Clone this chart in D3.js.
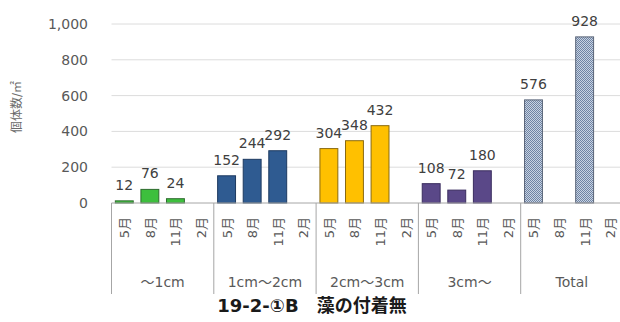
<!DOCTYPE html>
<html>
<head>
<meta charset="utf-8">
<script src="https://cdn.jsdelivr.net/npm/d3@7"></script>
<style>
  html, body { margin: 0; padding: 0; background: #fff; }
  svg { display: block; }
  text { font-family: "DejaVu Sans", "Noto Sans CJK JP", sans-serif; }
</style>
</head>
<body>
<svg id="chart" width="620" height="322"></svg>
<script>
// Size classes and survey months
const groups = ["～1cm", "1cm～2cm", "2cm～3cm", "3cm～", "Total"];
const months = ["5月", "8月", "11月", "2月"];

// Individuals per m², one row per size class (null = no survey value)
const valSmall  = [12, 76, 24, null];
const valMid1   = [152, 244, 292, null];
const valMid2   = [304, 348, 432, null];
const valLarge  = [108, 72, 180, null];
const valTotal  = [576, null, 928, null];
const seriesValues = [valSmall, valMid1, valMid2, valLarge, valTotal];

const yTicks = [0, 200, 400, 600, 800, 1000];
const yTitle = "個体数/㎡";
const chartTitle = "19-2-①B　藻の付着無";

const fills   = ["#3dbf3d", "#2f5b91", "#ffc000", "#5a4888", "url(#dots)"];
const strokes = ["#2d6b2d", "#1d3a60", "#8a6a10", "#3a2d5e", "#5a6578"];

const svg = d3.select("#chart");

// fine checked fill for the totals
const defs = svg.append("defs");
const pat = defs.append("pattern").attr("id", "dots")
  .attr("width", 2).attr("height", 2).attr("patternUnits", "userSpaceOnUse");
pat.append("rect").attr("width", 2).attr("height", 2).attr("fill", "#c9d3e2");
pat.append("rect").attr("width", 1).attr("height", 1).attr("fill", "#6f84a4");
pat.append("rect").attr("x", 1).attr("y", 1).attr("width", 1).attr("height", 1).attr("fill", "#6f84a4");

// flatten into categories
const cats = [];
groups.forEach((g, gi) => months.forEach((m, mi) => {
  cats.push({ key: gi + "-" + mi, group: gi, month: m, value: seriesValues[gi][mi] });
}));

const left = 111.5, groupW = 102.3;
const x = d3.scaleBand().domain(cats.map(d => d.key))
  .range([left, left + groupW * groups.length]).paddingInner(0.3).paddingOuter(0.15);
const y = d3.scaleLinear().domain([0, 1000]).range([203, 24]);

// gridlines
svg.append("g").selectAll("line").data(yTicks.filter(t => t > 0)).join("line")
  .attr("x1", left).attr("x2", 620)
  .attr("y1", d => y(d)).attr("y2", d => y(d))
  .attr("stroke", "#dcdcdc").attr("stroke-width", 1);

// y axis labels
const yAxis = d3.axisLeft(y).tickValues(yTicks).tickFormat(d3.format(",")).tickSize(0).tickPadding(0);
const ya = svg.append("g").attr("transform", "translate(88,0)").call(yAxis);
ya.select(".domain").remove();
ya.selectAll("text").attr("font-size", 14).attr("fill", "#595959")
  .attr("font-family", "DejaVu Sans, sans-serif");

// y title
svg.append("text")
  .attr("transform", "translate(21,107) rotate(-90)")
  .attr("text-anchor", "middle").attr("font-size", 12).attr("fill", "#6a6a6a")
  .attr("font-family", "Noto Sans CJK JP, sans-serif")
  .text(yTitle);

// bars
const barData = cats.filter(d => d.value != null);
svg.append("g").selectAll("rect").data(barData).join("rect")
  .attr("x", d => x(d.key)).attr("width", x.bandwidth())
  .attr("y", d => y(d.value)).attr("height", d => y(0) - y(d.value))
  .attr("fill", d => fills[d.group]).attr("stroke", d => strokes[d.group]).attr("stroke-width", 1);

// value labels
svg.append("g").selectAll("text").data(barData).join("text")
  .attr("x", d => x(d.key) + x.bandwidth() / 2)
  .attr("y", d => y(d.value) - 11)
  .attr("text-anchor", "middle").attr("font-size", 14).attr("fill", "#404040")
  .text(d => d.value);

// category axis baseline and group separators
svg.append("line").attr("x1", left).attr("x2", 620).attr("y1", y(0)).attr("y2", y(0))
  .attr("stroke", "#a6a6a6");
svg.append("g").selectAll("line").data(d3.range(groups.length)).join("line")
  .attr("x1", i => left + i * groupW).attr("x2", i => left + i * groupW)
  .attr("y1", y(0)).attr("y2", 294)
  .attr("stroke", "#a6a6a6");

// month labels
svg.append("g").selectAll("text").data(cats).join("text")
  .attr("transform", d => `translate(${x(d.key) + x.bandwidth() / 2 + 5},217) rotate(-90)`)
  .attr("text-anchor", "end").attr("font-size", 13).attr("fill", "#595959")
  .text(d => d.month);

// group labels
svg.append("g").selectAll("text").data(groups).join("text")
  .attr("x", (g, i) => left + (i + 0.5) * groupW).attr("y", 287)
  .attr("text-anchor", "middle").attr("font-size", 14).attr("fill", "#595959")
  .text(g => g);

// title
svg.append("text").attr("x", 312).attr("y", 312)
  .attr("text-anchor", "middle").attr("font-size", 18).attr("font-weight", "bold")
  .attr("fill", "#1a1a1a").attr("font-family", "Noto Sans CJK JP, sans-serif")
  .text(chartTitle);
</script>
</body>
</html>
